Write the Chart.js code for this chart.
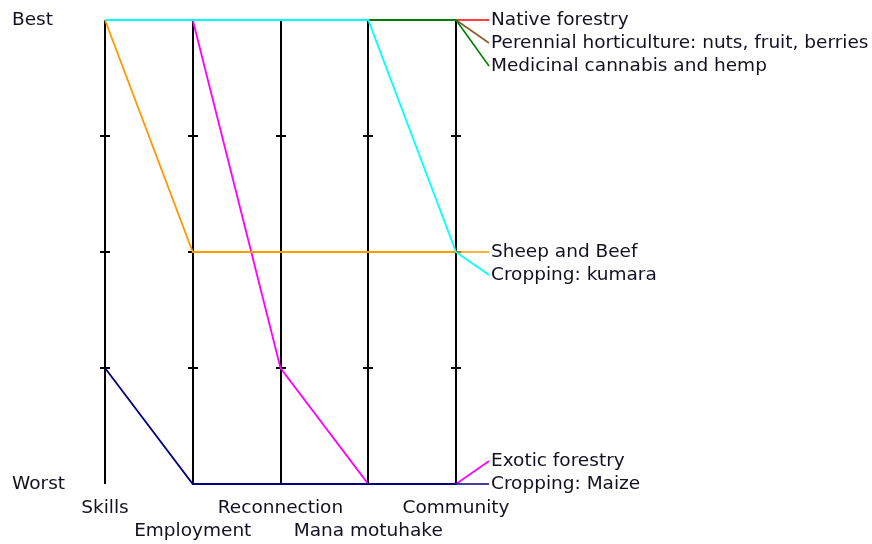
<!DOCTYPE html>
<html>
<head>
<meta charset="utf-8">
<script src="https://cdn.jsdelivr.net/npm/chart.js@4/dist/chart.umd.min.js"></script>
<style>
html,body{margin:0;padding:0;background:#fff;}
canvas{display:block;}
</style>
</head>
<body>
<canvas id="c" width="872" height="544"></canvas>
<script>
// ---- data ----
const axisNames = ["Skills", "Employment", "Reconnection", "Mana motuhake", "Community"];
const levelLabels = ["Worst", "Best"];
const seriesNames = [
  "Native forestry",
  "Perennial horticulture: nuts, fruit, berries",
  "Medicinal cannabis and hemp",
  "Sheep and Beef",
  "Cropping: kumara",
  "Exotic forestry",
  "Cropping: Maize"
];
const nativeForestry = [4, 4, 4, 4, 4];
const perennialHorticulture = [4, 4, 4, 4, 4];
const medicinalCannabis = [4, 4, 4, 4, 4];
const sheepAndBeef = [4, 2, 2, 2, 2];
const croppingKumara = [4, 4, 4, 4, 2];
const exoticForestry = [4, 4, 1, 0, 0];
const croppingMaize = [1, 0, 0, 0, 0];
const seriesValues = [nativeForestry, perennialHorticulture, medicinalCannabis, sheepAndBeef, croppingKumara, exoticForestry, croppingMaize];
const tickValues = [1, 2, 3];

// ---- styling ----
const seriesColors = ["#ff0000", "#8b5a2b", "#008000", "#ff9900", "#00ffff", "#ff00ff", "#000080"];
const drawRank = [0, 1, 2, 4, 5, 3, 6]; // later rank = drawn on top
const FONT = "18.5px 'DejaVu Sans'";
const TEXT = "#111122";

const parallelPlugin = {
  id: "parallel",
  beforeDraw(chart) {
    const ctx = chart.ctx;
    ctx.save();
    ctx.fillStyle = "#ffffff";
    ctx.fillRect(0, 0, chart.width, chart.height);
    ctx.restore();
  },
  beforeDatasetsDraw(chart) {
    const ctx = chart.ctx, xs = chart.scales.x, ys = chart.scales.y;
    ctx.save();
    ctx.strokeStyle = "#000";
    ctx.lineWidth = 2;
    axisNames.forEach((n, i) => {
      const x = Math.round(xs.getPixelForValue(i));
      ctx.beginPath();
      ctx.moveTo(x, ys.getPixelForValue(4));
      ctx.lineTo(x, ys.getPixelForValue(0));
      ctx.stroke();
      tickValues.forEach(v => {
        const y = Math.round(ys.getPixelForValue(v));
        ctx.beginPath();
        ctx.moveTo(x - 5, y);
        ctx.lineTo(x + 5, y);
        ctx.stroke();
      });
    });
    ctx.restore();
  },
  afterDatasetsDraw(chart) {
    const ctx = chart.ctx, xs = chart.scales.x, ys = chart.scales.y;
    const area = chart.chartArea;
    ctx.save();
    ctx.font = FONT;
    ctx.fillStyle = TEXT;
    ctx.textBaseline = "middle";
    ctx.textAlign = "left";
    ctx.fillText(levelLabels[1], 12, ys.getPixelForValue(4));
    ctx.fillText(levelLabels[0], 12, ys.getPixelForValue(0));
    ctx.textAlign = "center";
    axisNames.forEach((n, i) => {
      const x = xs.getPixelForValue(i);
      const y = area.bottom + (i % 2 === 0 ? 24 : 47);
      ctx.fillText(n, x, y);
    });
    const last = axisNames.length - 1;
    const groups = {};
    seriesValues.forEach((vals, i) => {
      const v = vals[last];
      (groups[v] = groups[v] || []).push(i);
    });
    const lineGap = 23;
    const xEnd = xs.getPixelForValue(last);
    const xLabel = xEnd + 35;
    Object.keys(groups).forEach(k => {
      const idx = groups[k];
      const y0 = ys.getPixelForValue(Number(k));
      let ys2 = idx.map((_, j) => y0 + j * lineGap);
      const over = ys2[ys2.length - 1] - area.bottom;
      if (over > 0) ys2 = ys2.map(y => y - over);
      idx.forEach((si, j) => {
        ctx.strokeStyle = seriesColors[si];
        ctx.lineWidth = 1.6;
        ctx.beginPath();
        ctx.moveTo(xEnd, y0);
        ctx.lineTo(xLabel - 2, ys2[j]);
        ctx.stroke();
        ctx.textAlign = "left";
        ctx.fillStyle = TEXT;
        ctx.fillText(seriesNames[si], xLabel, ys2[j]);
      });
    });
    ctx.restore();
  }
};

new Chart(document.getElementById("c"), {
  type: "line",
  data: {
    labels: axisNames,
    datasets: seriesNames.map((name, i) => ({
      label: name,
      data: seriesValues[i],
      borderColor: seriesColors[i],
      backgroundColor: seriesColors[i],
      borderWidth: 1.8,
      pointRadius: 0,
      tension: 0,
      fill: false,
      clip: false,
      order: 10 - drawRank[i]
    }))
  },
  options: {
    responsive: false,
    animation: false,
    devicePixelRatio: 1,
    layout: { padding: { left: 105, right: 416, top: 20, bottom: 60 } },
    scales: {
      x: { type: "category", display: false, offset: false },
      y: { type: "linear", min: 0, max: 4, display: false }
    },
    plugins: { legend: { display: false }, tooltip: { enabled: false } }
  },
  plugins: [parallelPlugin]
});
</script>
</body>
</html>
